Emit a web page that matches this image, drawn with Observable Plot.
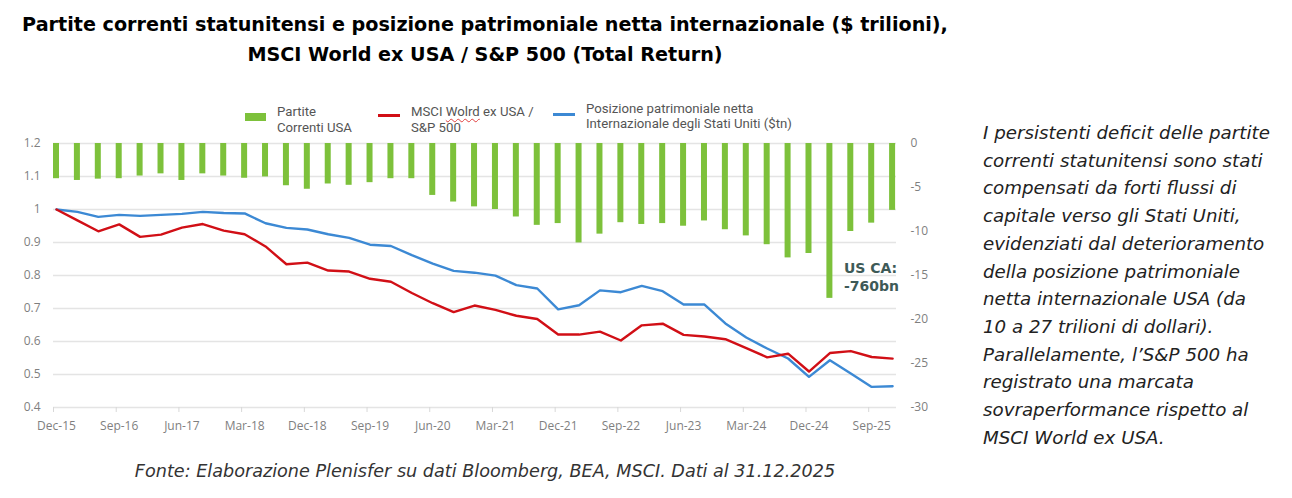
<!DOCTYPE html>
<html>
<head>
<meta charset="utf-8">
<script src="https://cdn.jsdelivr.net/npm/d3@7"></script>
<script src="https://cdn.jsdelivr.net/npm/@observablehq/plot@0.6"></script>
<style>
  body { margin:0; background:#fff; width:1292px; height:498px; position:relative; overflow:hidden; font-family:"DejaVu Sans", sans-serif; }
  #title { position:absolute; left:0; top:10px; width:970px; text-align:center; font-weight:700; font-size:19px; line-height:30px; color:#000; white-space:nowrap; }
  .leg { position:absolute; top:104px; font-family:Roboto, sans-serif; font-size:12.5px; line-height:15.5px; color:#555; white-space:nowrap; }
  .sw { position:absolute; }
  #chart { position:absolute; left:0; top:133px; }
  #side { position:absolute; left:983px; top:119px; font-style:italic; font-size:16px; line-height:27.7px; color:#222; white-space:nowrap; }
  #caption { position:absolute; left:0; top:459px; width:970px; text-align:center; font-style:italic; font-size:16px; line-height:24px; color:#333; white-space:nowrap; }
  .typo { text-decoration: underline wavy #e04040; text-decoration-thickness:1px; text-underline-offset:2px; }
</style>
</head>
<body>
<div id="title"><span id="t1">Partite correnti statunitensi e posizione patrimoniale netta internazionale ($ trilioni),</span><br>MSCI World ex USA / S&amp;P 500 (Total Return)</div>

<div class="sw" style="left:245px;top:113px;width:21px;height:8px;background:#7dc13b"></div>
<div class="leg" id="lg1" style="left:277px">Partite<br><span id="l1">Correnti USA</span></div>
<div class="sw" style="left:378px;top:114px;width:22px;height:2.5px;background:#d10f16"></div>
<div class="leg" id="lg2" style="left:411px"><span id="l2">MSCI <span class="typo">Wolrd</span> ex USA /</span><br>S&amp;P 500</div>
<div class="sw" style="left:553px;top:113px;width:22px;height:2.5px;background:#3c89d4"></div>
<div class="leg" id="lg3" style="left:586px;top:100.5px">Posizione patrimoniale netta<br><span id="l3">Internazionale degli Stati Uniti ($tn)</span></div>

<div id="chart"></div>

<div id="side"><span id="s1">I persistenti deficit delle partite</span><br>correnti statunitensi sono stati<br>compensati da forti flussi di<br>capitale verso gli Stati Uniti,<br>evidenziati dal deterioramento<br>della posizione patrimoniale<br>netta internazionale USA (da<br>10 a 27 trilioni di dollari).<br>Parallelamente, l’S&amp;P 500 ha<br>registrato una marcata<br>sovraperformance rispetto al<br>MSCI World ex USA.</div>

<div id="caption"><span id="c1">Fonte: Elaborazione Plenisfer su dati Bloomberg, BEA, MSCI. Dati al 31.12.2025</span></div>

<script>
// Quarterly categories
const quarters = ["Dec-15","Mar-16","Jun-16","Sep-16","Dec-16","Mar-17","Jun-17","Sep-17","Dec-17",
  "Mar-18","Jun-18","Sep-18","Dec-18","Mar-19","Jun-19","Sep-19","Dec-19","Mar-20","Jun-20","Sep-20",
  "Dec-20","Mar-21","Jun-21","Sep-21","Dec-21","Mar-22","Jun-22","Sep-22","Dec-22","Mar-23","Jun-23",
  "Sep-23","Dec-23","Mar-24","Jun-24","Sep-24","Dec-24","Mar-25","Jun-25","Sep-25","Dec-25"];

// Partite correnti USA (bars, right-axis units)
const currentAccount = [-4.0,-4.2,-4.05,-4.0,-3.7,-3.45,-4.2,-3.45,-3.7,-3.95,-3.8,-4.8,-5.2,-4.6,-4.75,-4.45,
  -4.0,-4.0,-5.9,-6.65,-7.2,-7.5,-8.35,-9.3,-9.1,-11.3,-10.3,-9.0,-9.2,-9.1,-9.4,-8.8,-9.8,-10.5,-11.5,
  -13.0,-12.5,-17.6,-10.0,-9.05,-7.6];

// MSCI World ex USA / S&P 500 (left axis)
const msciRatio = [1.0,0.967,0.934,0.955,0.917,0.924,0.945,0.956,0.936,0.925,0.888,0.834,0.839,0.815,0.812,
  0.79,0.781,0.747,0.716,0.689,0.709,0.696,0.678,0.668,0.621,0.621,0.63,0.603,0.649,0.654,0.62,0.615,
  0.607,0.58,0.552,0.563,0.509,0.565,0.571,0.553,0.548];

// Posizione patrimoniale netta internazionale USA ($tn, right axis)
const niip = [-7.5,-7.77,-8.34,-8.11,-8.23,-8.11,-8.0,-7.77,-7.89,-7.95,-9.06,-9.59,-9.77,-10.31,-10.73,
  -11.5,-11.65,-12.69,-13.64,-14.48,-14.68,-15.02,-16.1,-16.48,-18.85,-18.38,-16.69,-16.9,-16.18,-16.78,
  -18.3,-18.3,-20.45,-22.05,-23.3,-24.43,-26.52,-24.63,-26.14,-27.66,-27.58];

const leftTicks = [0.4,0.5,0.6,0.7,0.8,0.9,1,1.1,1.2];
const rightTicks = [0,-5,-10,-15,-20,-25,-30];
const annotationIndex = 37;
const annotationText = "US CA:\n-760bn";

const GREEN = "#7dc13b", RED = "#d10f16", BLUE = "#3c89d4";

// fit text widths to the reference layout by scaling the font size
function fit(spanId, target, els, maxFs) {
  const s = document.getElementById(spanId);
  const w = s.getBoundingClientRect().width;
  const k = target / w;
  els.forEach(e => {
    const fs = parseFloat(getComputedStyle(e).fontSize);
    e.style.fontSize = Math.min(fs * k, maxFs || Infinity) + "px";
  });
}
fit("t1", 926, [document.getElementById("title")]);
fit("l1", 78, [document.getElementById("lg1")], 13.2);
fit("l2", 124, [document.getElementById("lg2")], 13.2);
fit("l3", 221, [document.getElementById("lg3")], 13.2);
fit("s1", 287, [document.getElementById("side")]);
fit("c1", 701, [document.getElementById("caption")]);

// map right-axis values onto the left-axis scale
const toLeft = d3.scaleLinear([-30, 0], [0.4, 1.2]);

const table = quarters.map((q, i) => ({i, q, ca: currentAccount[i], ratio: msciRatio[i], niip: niip[i]}));
const tickIdx = table.filter(d => d.i % 3 === 0);

const BAR = 0.287;      // bar width in category units
const MID = BAR / 2;    // bar centre

const chart = Plot.plot({
  width: 940,
  height: 300,
  marginTop: 10,
  marginBottom: 26,
  marginLeft: 53,
  marginRight: 44,
  style: {fontFamily: "'Open Sans', sans-serif", fontSize: "12px", color: "#7f7f7f", background: "transparent"},
  x: {domain: [0, 40.33]},
  y: {domain: [0.4, 1.2]},
  marks: [
    Plot.gridY(leftTicks, {stroke: "#e4e4e4", strokeOpacity: 1, strokeWidth: 1.5}),
    Plot.axisX(tickIdx.map(d => d.i), {tickSize: 5, tickFormat: () => "", stroke: "#d8d8d8", label: null}),
    Plot.axisX(tickIdx.map(d => d.i + MID), {tickSize: 0, tickPadding: 14, tickFormat: x => quarters[Math.round(x - MID)], label: null, fill: "#7f7f7f"}),
    Plot.axisY(leftTicks, {anchor: "left", tickSize: 0, tickPadding: 13, tickFormat: d3.format("~g"), label: null, fill: "#7f7f7f"}),
    Plot.axisY(rightTicks.map(toLeft), {anchor: "right", tickSize: 0, tickPadding: 14, tickFormat: d => String(Math.round(toLeft.invert(d))), label: null, fill: "#7f7f7f"}),
    Plot.rectY(table, {x1: d => d.i, x2: d => d.i + BAR, y1: () => toLeft(0), y2: d => toLeft(d.ca), fill: GREEN}),
    Plot.line(table, {x: d => d.i + MID, y: d => toLeft(d.niip), stroke: BLUE, strokeWidth: 2.4}),
    Plot.line(table, {x: d => d.i + MID, y: "ratio", stroke: RED, strokeWidth: 2.4}),
    Plot.text([table[annotationIndex]], {x: d => d.i, y: d => toLeft(d.ca), text: () => annotationText,
      textAnchor: "start", dx: 17, dy: -22, fontWeight: 700, fontSize: 14, lineHeight: 1.3,
      fontFamily: "'DejaVu Sans', sans-serif", fill: "#3e5a57"})
  ]
});
document.getElementById("chart").appendChild(chart);
</script>
</body>
</html>
